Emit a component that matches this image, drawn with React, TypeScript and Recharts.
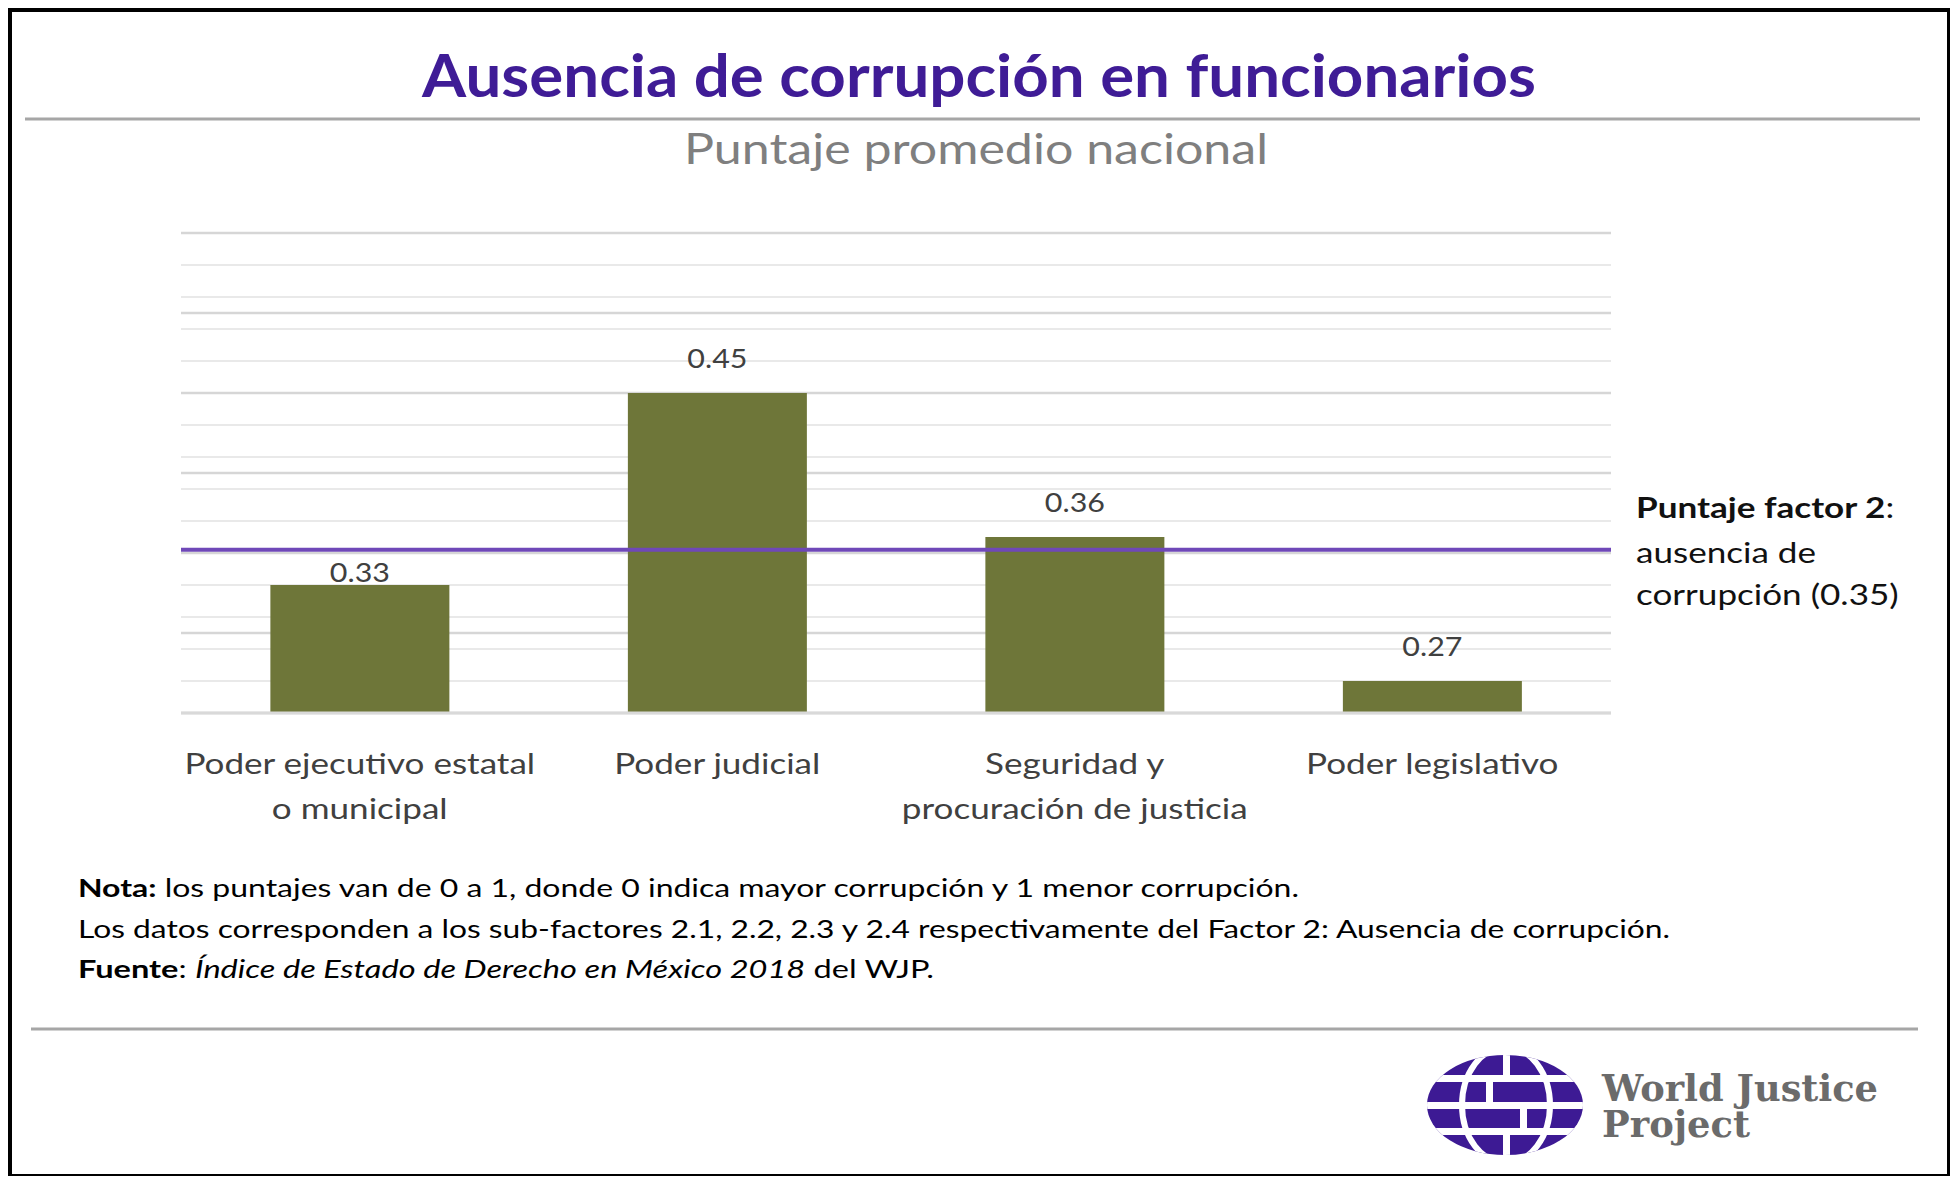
import React from "react"
import { BarChart, Bar, XAxis, YAxis, CartesianGrid, ReferenceLine, LabelList } from "recharts"

const categories = [
  "Poder ejecutivo estatal\no municipal",
  "Poder judicial",
  "Seguridad y\nprocuración de justicia",
  "Poder legislativo",
]
const scores = [0.33, 0.45, 0.36, 0.27]
const factorScore = 0.352
const yDomain = [0.25, 0.55]
const majorTicks = [0.25, 0.3, 0.35, 0.4, 0.45, 0.5, 0.55]
const minorTicks = [
  0.25, 0.26, 0.27, 0.28, 0.29, 0.3, 0.31, 0.32, 0.33, 0.34, 0.35, 0.36, 0.37, 0.38, 0.39, 0.4,
  0.41, 0.42, 0.43, 0.44, 0.45, 0.46, 0.47, 0.48, 0.49, 0.5, 0.51, 0.52, 0.53, 0.54, 0.55,
]

const data = categories.map((name, i) => ({ name, score: scores[i] }))

const FONT = "Lato, 'Open Sans', sans-serif"
// the source image is a little wider than tall, so the text is stretched sideways
const SX = 1.21

const CategoryTick = (props: any) => {
  const { x, y, payload } = props
  const lines = String(payload.value).split("\n")
  return (
    <g transform={`translate(${x} ${y}) scale(${SX} 1)`}>
      <text x={0} y={0} textAnchor="middle" fontFamily={FONT} fontSize={29} fill="#404040">
        {lines.map((l, i) => (
          <tspan key={i} x={0} y={59 + i * 45}>
            {l}
          </tspan>
        ))}
      </text>
    </g>
  )
}

const ValueLabel = (props: any) => {
  const { x, y, width, value } = props
  // the label right under the factor line sits close to its bar
  const nearLine = value < factorScore && factorScore - value < 0.03
  return (
    <g transform={`translate(${x + width / 2} ${y - (nearLine ? 3 : 25)}) scale(1.17 1)`}>
      <text x={0} y={0} textAnchor="middle" fontFamily={FONT} fontSize={26} fill="#404040">
        {Number(value).toFixed(2)}
      </text>
    </g>
  )
}

const FactorNote = (props: any) => {
  const vb = props.viewBox
  if (!vb) return null
  const x = vb.x + vb.width + 25
  const y = vb.y
  return (
    <g transform={`translate(${x} ${y}) scale(${SX} 1)`} fontFamily={FONT} fontSize={29} fill="#111">
      <text x={0} y={-32}>
        <tspan fontWeight="bold">Puntaje factor 2</tspan>:
      </text>
      <text x={0} y={13}>ausencia de</text>
      <text x={0} y={55}>corrupción ({factorScore.toFixed(2)})</text>
    </g>
  )
}

const Logo = () => (
  <g>
    <defs>
      <clipPath id="globeClip">
        <ellipse cx={1505} cy={1105} rx={78} ry={50} />
      </clipPath>
    </defs>
    <g clipPath="url(#globeClip)">
      <rect x={1420} y={1050} width={170} height={110} fill="#3d1a94" />
      <rect x={1420} y={1075} width={170} height={7} fill="#fff" />
      <rect x={1420} y={1102} width={170} height={7} fill="#fff" />
      <rect x={1420} y={1128} width={170} height={7} fill="#fff" />
      <rect x={1503} y={1050} width={7} height={28} fill="#fff" />
      <rect x={1503} y={1132} width={7} height={30} fill="#fff" />
      <rect x={1486} y={1078} width={7} height={27} fill="#fff" />
      <rect x={1520} y={1105} width={7} height={27} fill="#fff" />
      <ellipse cx={1506} cy={1105} rx={44} ry={58} fill="none" stroke="#fff" strokeWidth={6} />
    </g>
    <g fontFamily="'DejaVu Serif', serif" fontWeight="bold" fill="#6b6b6b" fontSize={37}>
      <text x={1602} y={1101} textLength={276} lengthAdjust="spacingAndGlyphs">
        World Justice
      </text>
      <text x={1602} y={1137} textLength={148} lengthAdjust="spacingAndGlyphs">
        Project
      </text>
    </g>
  </g>
)

const Frame = () => (
  <svg width={1958} height={1184} style={{ position: "absolute", left: -8, top: -8 }}>
    <rect x={10} y={10} width={1939} height={1166} fill="#fff" stroke="#000" strokeWidth={4} />
    <text
      x={979}
      y={97}
      textAnchor="middle"
      fontFamily={FONT}
      fontWeight="bold"
      fontSize={60}
      fill="#3f1c96"
      textLength={1114}
      lengthAdjust="spacingAndGlyphs"
    >
      Ausencia de corrupción en funcionarios
    </text>
    <line x1={25} x2={1920} y1={119} y2={119} stroke="#a6a6a6" strokeWidth={3} />
    <text
      x={976}
      y={164}
      textAnchor="middle"
      fontFamily={FONT}
      fontSize={43}
      fill="#7f7f7f"
      textLength={584}
      lengthAdjust="spacingAndGlyphs"
    >
      Puntaje promedio nacional
    </text>
    <g fontFamily={FONT} fontSize={25} fill="#000">
      <text x={78} y={897} textLength={1221} lengthAdjust="spacingAndGlyphs">
        <tspan fontWeight="bold">Nota:</tspan> los puntajes van de 0 a 1, donde 0 indica mayor corrupción y 1 menor
        corrupción.
      </text>
      <text x={78} y={938} textLength={1592} lengthAdjust="spacingAndGlyphs">
        Los datos corresponden a los sub-factores 2.1, 2.2, 2.3 y 2.4 respectivamente del Factor 2: Ausencia de
        corrupción.
      </text>
      <text x={78} y={978} textLength={856} lengthAdjust="spacingAndGlyphs">
        <tspan fontWeight="bold">Fuente</tspan>: <tspan fontStyle="italic">Índice de Estado de Derecho en México 2018</tspan>{" "}
        del WJP.
      </text>
    </g>
    <line x1={31} x2={1918} y1={1029} y2={1029} stroke="#a6a6a6" strokeWidth={3} />
    <Logo />
  </svg>
)

export default function App() {
  return (
    <div style={{ position: "relative", width: 1942, height: 1168 }}>
      <Frame />
      <div style={{ position: "absolute", left: -8, top: -8 }}>
        <BarChart
          width={1958}
          height={900}
          data={data}
          margin={{ top: 233, right: 347, bottom: 57, left: 181 }}
          barCategoryGap="25%"
        >
          <CartesianGrid vertical={false} horizontalValues={minorTicks} stroke="#e9e9e9" strokeWidth={2} />
          <CartesianGrid vertical={false} horizontalValues={majorTicks} stroke="#d6d6d6" strokeWidth={2.5} />
          <YAxis hide type="number" domain={yDomain} ticks={majorTicks} allowDataOverflow />
          <XAxis
            dataKey="name"
            height={130}
            interval={0}
            tickLine={false}
            tickSize={0}
            axisLine={{ stroke: "#d9d9d9", strokeWidth: 3 }}
            tick={<CategoryTick />}
          />
          <Bar dataKey="score" fill="#6e7639" isAnimationActive={false}>
            <LabelList dataKey="score" content={<ValueLabel />} />
          </Bar>
          <ReferenceLine y={factorScore} stroke="#6f48b8" strokeWidth={4} label={<FactorNote />} />
        </BarChart>
      </div>
    </div>
  )
}
